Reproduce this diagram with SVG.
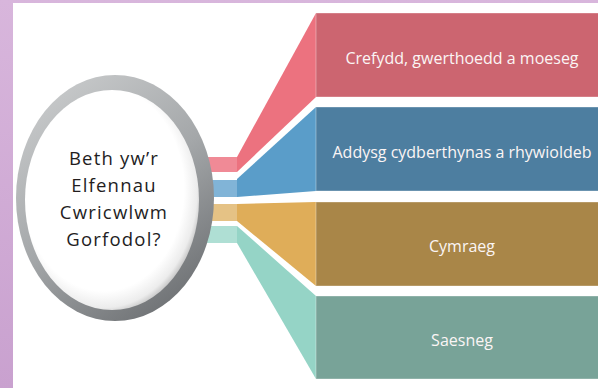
<svg xmlns="http://www.w3.org/2000/svg" width="598" height="388" viewBox="0 0 598 388">
  <defs>
    <linearGradient id="bgPurple" x1="0" y1="0" x2="0" y2="1">
      <stop offset="0" stop-color="#d8b6dc"/>
      <stop offset="1" stop-color="#c9a1cf"/>
    </linearGradient>
    <linearGradient id="ring" x1="0.2" y1="0" x2="0.8" y2="1">
      <stop offset="0" stop-color="#c9cbcc"/>
      <stop offset="0.5" stop-color="#a4a7a9"/>
      <stop offset="1" stop-color="#6a6d70"/>
    </linearGradient>
    <radialGradient id="face" cx="0.45" cy="0.45" r="0.58">
      <stop offset="0" stop-color="#ffffff"/>
      <stop offset="0.8" stop-color="#ffffff"/>
      <stop offset="0.93" stop-color="#ececec"/>
      <stop offset="1" stop-color="#bdbdbd"/>
    </radialGradient>
    <style>
      .ctext { font-family: "Open Sans", "Noto Sans", sans-serif; font-size: 18.5px; font-weight: 500; fill: #231d1e; text-anchor: middle; letter-spacing: 1.2px; }
      .btext { font-family: "Open Sans", "Noto Sans", sans-serif; font-size: 16px; fill: #fbf5f5; text-anchor: middle; }
      .box { stroke: #ffffff; stroke-opacity: 0.35; stroke-width: 1; }
    </style>
  </defs>

  <!-- background -->
  <rect x="0" y="0" width="598" height="388" fill="url(#bgPurple)"/>
  <rect x="13" y="3" width="585" height="385" fill="#ffffff"/>

  <!-- connectors: stubs and funnels -->
  <g id="connectors">
    <rect x="196" y="157" width="41" height="15" fill="#f08a96"/>
    <rect x="196" y="180" width="41" height="17" fill="#81b4d7"/>
    <rect x="196" y="204" width="41" height="17" fill="#e5c285"/>
    <rect x="196" y="226" width="41" height="17" fill="#afdfd4"/>
    <polygon points="237,157 316,13 316,97 237,172" fill="#ec727f"/>
    <polygon points="237,179 316,107 316,191 237,197" fill="#5a9dc9"/>
    <polygon points="237,204 316,202 316,286 237,221" fill="#dfad59"/>
    <polygon points="237,226 316,296 316,379 237,243" fill="#95d4c6"/>
  </g>

  <!-- central node -->
  <g id="node-centre">
    <ellipse cx="115" cy="198" rx="99" ry="123" fill="url(#ring)"/>
    <ellipse cx="112" cy="200" rx="87" ry="110" fill="url(#face)"/>
    <text class="ctext" x="114" y="165">Beth yw’r</text>
    <text class="ctext" x="114" y="192">Elfennau</text>
    <text class="ctext" x="114" y="219">Cwricwlwm</text>
    <text class="ctext" x="114" y="246">Gorfodol?</text>
  </g>

  <g id="node-crefydd">
    <rect class="box" x="316" y="13" width="283" height="84" fill="#cc6570"/>
    <text class="btext" x="462" y="64">Crefydd, gwerthoedd a moeseg</text>
  </g>
  <g id="node-addysg">
    <rect class="box" x="316" y="107" width="283" height="84" fill="#4d7ea0"/>
    <text class="btext" x="462" y="158">Addysg cydberthynas a rhywioldeb</text>
  </g>
  <g id="node-cymraeg">
    <rect class="box" x="316" y="202" width="283" height="84" fill="#a98648"/>
    <text class="btext" x="462" y="252">Cymraeg</text>
  </g>
  <g id="node-saesneg">
    <rect class="box" x="316" y="296" width="283" height="83" fill="#78a398"/>
    <text class="btext" x="462" y="346">Saesneg</text>
  </g>
</svg>
